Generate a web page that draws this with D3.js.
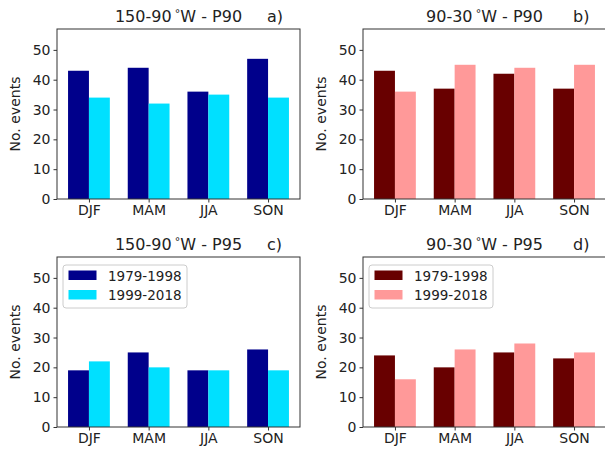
<!DOCTYPE html>
<html><head><meta charset="utf-8">
<script src="https://cdn.jsdelivr.net/npm/d3@7"></script>
<style>body{margin:0;background:#fff;} svg{display:block;font-family:"DejaVu Sans",sans-serif;}</style>
</head><body>
<svg id="c" width="605" height="451"></svg>
<script>
const seasons = ["DJF","MAM","JJA","SON"];
const seriesNames = ["1979-1998","1999-2018"];
const yTicks = [0,10,20,30,40,50];
const titles = ["150-90\u00b0W - P90","90-30\u00b0W - P90","150-90\u00b0W - P95","90-30\u00b0W - P95"];
const panelLabels = ["a)","b)","c)","d)"];
const a_early = [43,44,36,47], a_late = [34,32,35,34];
const b_early = [43,37,42,37], b_late = [36,45,44,45];
const c_early = [19,25,19,26], c_late = [22,20,19,19];
const d_early = [24,20,25,23], d_late = [16,26,28,25];
const blueColors = ["#00008b","#00e0ff"];
const redColors = ["#680000","#ff9999"];

const panels = [
  {left:57, top:29, early:a_early, late:a_late, colors:blueColors, legend:false},
  {left:363, top:29, early:b_early, late:b_late, colors:redColors, legend:false},
  {left:57, top:257, early:c_early, late:c_late, colors:blueColors, legend:true},
  {left:363, top:257, early:d_early, late:d_late, colors:redColors, legend:true}
];
const W = 243, H = 170, barW = 0.35;
const svg = d3.select("#c");

panels.forEach((p,pi)=>{
  const g = svg.append("g").attr("transform",`translate(${p.left},${p.top})`);
  const x = d3.scaleLinear().domain([-0.535, 3.535]).range([0, W]);
  const y = d3.scaleLinear().domain([0, 57]).range([H, 0]);
  const data = seasons.map((s,i)=>({i, v:[p.early[i], p.late[i]]}));
  [0,1].forEach(k=>{
    g.selectAll(null).data(data).enter().append("rect")
      .attr("x", d=>x(d.i + (k===0 ? -barW : 0)))
      .attr("width", x(barW)-x(0))
      .attr("y", d=>y(d.v[k]))
      .attr("height", d=>y(0)-y(d.v[k]))
      .attr("fill", p.colors[k]);
  });
  g.append("rect").attr("x",0).attr("y",0).attr("width",W).attr("height",H)
    .attr("fill","none").attr("stroke","#333").attr("stroke-width",1);
  const ya = g.append("g").call(d3.axisLeft(y).tickValues(yTicks).tickSize(3.5).tickPadding(3).tickFormat(d3.format("d")));
  ya.select(".domain").remove();
  ya.selectAll("text").attr("font-size",14).attr("fill","#222").attr("font-family","DejaVu Sans");
  ya.selectAll("line").attr("stroke","#333");
  const xa = g.append("g").attr("transform",`translate(0,${H})`)
    .call(d3.axisBottom(x).tickValues([0,1,2,3]).tickSize(3.5).tickPadding(3).tickFormat(d=>seasons[d]));
  xa.select(".domain").remove();
  xa.selectAll("text").attr("font-size",14).attr("fill","#222").attr("font-family","DejaVu Sans");
  xa.selectAll("line").attr("stroke","#333");
  g.append("text").attr("transform",`translate(-37,${H/2}) rotate(-90)`)
    .attr("text-anchor","middle").attr("font-size",14).attr("fill","#222").text("No. events");
  const parts = titles[pi].split("\u00b0");
  const t = g.append("text").attr("x",W/2).attr("y",-7).attr("text-anchor","middle")
    .attr("font-size",16).attr("fill","#222");
  t.append("tspan").text(parts[0] + "\u2009");
  t.append("tspan").attr("dy",-5).attr("font-size",11).text("\u00b0");
  t.append("tspan").attr("dy",5).text(parts[1]);
  g.append("text").attr("x",210).attr("y",-7).attr("font-size",16).attr("fill","#222").text(panelLabels[pi]);
  if(p.legend){
    const lg = g.append("g").attr("transform","translate(6,8)");
    lg.append("rect").attr("x",0).attr("y",0).attr("width",124).attr("height",43).attr("rx",3)
      .attr("fill","#fff").attr("fill-opacity",0.8).attr("stroke","#ccc");
    seriesNames.forEach((n,k)=>{
      lg.append("rect").attr("x",5.5).attr("y",5.5+k*19.5).attr("width",28).attr("height",9.5).attr("fill",p.colors[k]);
      lg.append("text").attr("x",45).attr("y",15.5+k*19.5).attr("font-size",13.5).attr("fill","#222").text(n);
    });
  }
});
</script>
</body></html>
